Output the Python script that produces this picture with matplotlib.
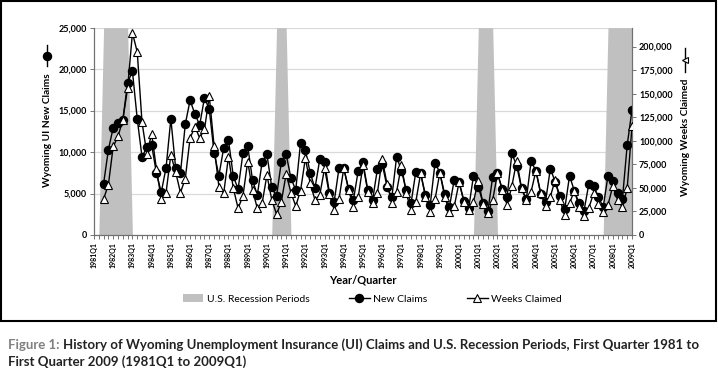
import numpy as np
import matplotlib
matplotlib.use("Agg")
import matplotlib.pyplot as plt
from matplotlib.lines import Line2D
from matplotlib.patches import Patch, Rectangle
from matplotlib.ticker import FuncFormatter, MultipleLocator

plt.rcParams['font.family'] = ['Lato', 'DejaVu Sans']

# quarterly data, 1981Q1 .. 2009Q1 (first two quarters not reported)
new_claims = [
    np.nan, np.nan, 6200, 10300,
    12950, 13550, 13850, 18350,
    19750, 14000, 9400, 10600,
    10850, 7450, 5150, 8100,
    14000, 8050, 7450, 13350,
    16250, 14600, 13270, 16550,
    15150, 9930, 7150, 10500,
    11420, 7100, 5530, 9850,
    10730, 6630, 4820, 8800,
    9730, 5750, 4650, 8840,
    9730, 6840, 5430, 11130,
    10250, 7510, 5630, 9130,
    8840, 5100, 4020, 8040,
    8040, 5590, 4220, 7720,
    8750, 5430, 4220, 7960,
    8560, 5830, 4540, 9440,
    7760, 5430, 3820, 7640,
    7440, 4820, 3650, 8720,
    7510, 4940, 3410, 6680,
    6430, 4140, 3220, 7150,
    5830, 3820, 2890, 7030,
    7440, 5510, 4620, 9850,
    8320, 5630, 4300, 8920,
    7720, 4940, 4020, 8000,
    6430, 4740, 3140, 7150,
    5310, 3820, 2890, 6110,
    5910, 4620, 3340, 7150,
    6550, 5030, 4300, 10850,
    15080,
]

weeks_claimed = [
    np.nan, np.nan, 38300, 53500,
    94000, 104600, 122300, 156000,
    214500, 194300, 119500, 86200,
    107400, 69900, 38300, 45000,
    85100, 66700, 45000, 59800,
    102700, 115000, 103000, 112000,
    147200, 94500, 51300, 44300,
    83200, 49600, 28300, 41400,
    77900, 47800, 28300, 33700,
    63700, 37500, 22000, 35400,
    64800, 44900, 30800, 47100,
    81400, 54900, 37200, 42500,
    70800, 43200, 26600, 37900,
    70800, 47800, 30100, 40000,
    74300, 46000, 33700, 44900,
    80400, 54200, 34300, 46000,
    74300, 44300, 26600, 35400,
    65500, 40700, 24800, 37900,
    66200, 40700, 24800, 30400,
    56000, 35400, 26600, 35400,
    57700, 32900, 23700, 37200,
    65500, 47800, 31900, 52000,
    78900, 49600, 37200, 46000,
    68300, 44300, 30400, 40700,
    58400, 37200, 21200, 33700,
    47100, 30100, 20200, 28300,
    44300, 32900, 24800, 31900,
    52000, 37200, 29400, 49600,
    115400,
]

# U.S. recession periods (first and last quarter)
recessions = [("1981Q3", "1982Q4"), ("1990Q3", "1991Q1"),
              ("2001Q1", "2001Q4"), ("2007Q4", "2009Q1")]

quarters = [f"{y}Q{q}" for y in range(1981, 2010) for q in range(1, 5)][:len(new_claims)]
x = np.arange(len(quarters))

rec = np.zeros(len(quarters))
for a, b in recessions:
    rec[quarters.index(a):quarters.index(b) + 1] = 1


def main():
    W, H = 718, 372
    fig = plt.figure(figsize=(W / 100, H / 100), dpi=100)
    ax = fig.add_axes([94 / W, 1 - 235 / H, (632 - 94) / W, (235 - 27.7) / H])
    ax2 = ax.twinx()

    ymax = 25000
    ax.fill_between(x, 0, rec * ymax, color='#c0c0c0', linewidth=0, zorder=1)
    ax.plot(x, new_claims, color='black', lw=1.0, marker='o', ms=5.8,
            mfc='black', mec='black', zorder=3)
    ax2.plot(x, weeks_claimed, color='black', lw=1.0, marker='^', ms=5.5,
             mfc='white', mec='black', mew=0.8, zorder=3)

    ax.set_xlim(0, len(quarters) - 1)
    ax.set_ylim(0, ymax)
    ax2.set_ylim(0, 220000)

    ax.set_yticks(range(0, 25001, 5000))
    ax2.set_yticks(range(0, 200001, 25000))
    fmt = FuncFormatter(lambda v, p: f"{int(v):,}")
    ax.yaxis.set_major_formatter(fmt)
    ax2.yaxis.set_major_formatter(fmt)
    ax.grid(axis='y', color='#d9d9d9', lw=0.9, zorder=0)
    ax.set_axisbelow(True)

    ax.set_xticks(x[::4])
    ax.set_xticklabels(quarters[::4], rotation=90, fontsize=5, fontweight='bold')
    ax.xaxis.set_minor_locator(MultipleLocator(1))
    ax.tick_params(axis='x', which='both', length=3, width=0.6, color='#606060', pad=2)
    ax.tick_params(axis='y', length=3, width=0.6, color='#606060', labelsize=6.5, pad=2)
    ax2.tick_params(axis='y', length=3, width=0.6, color='#606060', labelsize=6.5, pad=2)
    for lab in ax.get_yticklabels() + ax2.get_yticklabels():
        lab.set_fontweight('bold')

    for a in (ax, ax2):
        a.spines['top'].set_visible(False)
        for s in ('left', 'right', 'bottom'):
            a.spines[s].set_color('#707070')
            a.spines[s].set_linewidth(0.8)

    # axis titles
    fig.text(363 / W, 1 - 280 / H, "Year/Quarter", ha='center', va='center',
             fontsize=8, fontweight='bold')
    fig.text(47 / W, 1 - 130 / H, "Wyoming UI New Claims", rotation=90,
             ha='center', va='center', fontsize=7.3, fontweight='bold')
    fig.text(685 / W, 1 - 137 / H, "Wyoming Weeks Claimed", rotation=90,
             ha='center', va='center', fontsize=7.3, fontweight='bold')
    fig.add_artist(Line2D([47 / W, 47 / W], [1 - 45 / H, 1 - 66 / H], color='black',
                          lw=1.0))
    fig.add_artist(Line2D([47 / W], [1 - 56 / H], color='black', marker='o', ms=5.8))
    fig.add_artist(Line2D([685 / W, 685 / W], [1 - 48 / H, 1 - 72 / H], color='black',
                          lw=1.0))
    fig.add_artist(Line2D([685 / W], [1 - 60 / H], color='black', marker='<', ms=5,
                          mfc='white', mec='black', mew=0.8))

    # legend
    handles = [
        Patch(facecolor='#c0c0c0', edgecolor='none', label='U.S. Recession Periods'),
        Line2D([], [], color='black', lw=1.0, marker='o', ms=5.8, label='New Claims'),
        Line2D([], [], color='black', lw=1.0, marker='^', ms=5.5, mfc='white',
               mew=0.8, label='Weeks Claimed'),
    ]
    fig.legend(handles=handles, loc='center', bbox_to_anchor=(372 / W, 1 - 299 / H),
               ncol=3, frameon=False, fontsize=7.5, handlelength=2.0,
               columnspacing=3.8, handletextpad=0.3)

    # box around the chart
    fig.add_artist(Rectangle((1 / W, 1 - 321 / H), 715 / W, 320 / H, fill=False,
                             edgecolor='black', lw=1.5, transform=fig.transFigure))

    # caption
    t1 = fig.text(8 / W, 1 - 345 / H, "Figure 1: ", color='#808080', fontsize=9.5,
                  fontweight='bold', va='center')
    fig.canvas.draw()
    bb = t1.get_window_extent()
    fig.text(bb.x1 / W, 1 - 345 / H,
             "History of Wyoming Unemployment Insurance (UI) Claims and U.S. Recession Periods, First Quarter 1981 to",
             color='#222222', fontsize=9.5, fontweight='bold', va='center')
    fig.text(8 / W, 1 - 362 / H, "First Quarter 2009 (1981Q1 to 2009Q1)",
             color='#222222', fontsize=9.5, fontweight='bold', va='center')

    fig.savefig('out.png', dpi=100)


if __name__ == '__main__':
    main()
